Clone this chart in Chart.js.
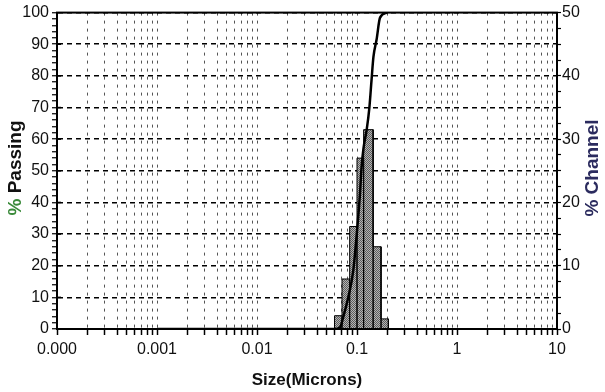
<!DOCTYPE html>
<html>
<head>
<meta charset="utf-8">
<script src="https://cdn.jsdelivr.net/npm/chart.js@4.4.0/dist/chart.umd.min.js"></script>
<style>
  html, body { margin: 0; padding: 0; background: #fff; }
  #wrap { width: 605px; height: 392px; }
</style>
</head>
<body>
<div id="wrap"><canvas id="psdChart" width="605" height="392"></canvas></div>
<script>
// --------------------------------
// Data
// --------------------------------
// histogram channels (right axis, % channel), bin edges in microns
const binEdges = [0.0596, 0.0708, 0.0845, 0.1, 0.1165, 0.145, 0.174, 0.206];
const channelPct = [2.1, 7.9, 16.2, 27.0, 31.5, 13.0, 1.6];

// cumulative curve (left axis, % passing)
const passSizes = [0.001, 0.06, 0.0676, 0.073, 0.0818, 0.0918, 0.1007, 0.107, 0.111, 0.116, 0.125, 0.133, 0.140, 0.146, 0.157, 0.170, 0.201];
const passPct = [0, 0, 0.5, 3.9, 10, 18.5, 32, 42.5, 51, 57, 63, 70, 79, 86, 91.5, 98.4, 100];

// x axis decades and their labels
const xTickValues = [0.0001, 0.001, 0.01, 0.1, 1, 10];
const xTickLabels = ['0.000', '0.001', '0.01', '0.1', '1', '10'];

const tickFont = { family: "'Liberation Sans', Arial, sans-serif", size: 16 };

// minor ticks 1..9 in every decade
function buildLogTicks() {
    const ticks = [];
    for (let i = 0; i < xTickValues.length - 1; i++) {
        for (let m = 1; m <= 9; m++) {
            ticks.push({ value: xTickValues[i] * m });
        }
    }
    ticks.push({ value: xTickValues[xTickValues.length - 1] });
    return ticks;
}

// histogram outline: up, across, down for each channel
const histPoints = [{ x: binEdges[0], y: 0 }];
for (let i = 0; i < channelPct.length; i++) {
    histPoints.push({ x: binEdges[i], y: channelPct[i] });
    histPoints.push({ x: binEdges[i + 1], y: channelPct[i] });
    histPoints.push({ x: binEdges[i + 1], y: 0 });
}
const passPoints = passSizes.map((s, i) => ({ x: s, y: passPct[i] }));

// stippled grey fill for the bars
const pc = document.createElement('canvas');
pc.width = 2; pc.height = 2;
const pctx = pc.getContext('2d');
pctx.fillStyle = '#b4b4b4'; pctx.fillRect(0, 0, 2, 2);
pctx.fillStyle = '#5c5c5c'; pctx.fillRect(0, 0, 1, 1); pctx.fillRect(1, 1, 1, 1);
const barPattern = pctx.createPattern(pc, 'repeat');

// frame, inner half of the major ticks and the axis titles
const frameAndTitles = {
    id: 'frameAndTitles',
    afterDraw(chart) {
        const ctx = chart.ctx;
        const a = chart.chartArea;
        ctx.save();
        ctx.strokeStyle = '#000';
        ctx.lineWidth = 2;
        ctx.strokeRect(a.left, a.top, a.right - a.left, a.bottom - a.top);

        const y = chart.scales.y;
        ctx.lineWidth = 1.5;
        for (let v = 10; v < 100; v += 10) {
            const py = y.getPixelForValue(v);
            ctx.beginPath();
            ctx.moveTo(a.left, py);
            ctx.lineTo(a.left + 4, py);
            ctx.stroke();
        }

        ctx.textBaseline = 'middle';
        // x title
        ctx.font = "bold 17px 'Liberation Sans', Arial, sans-serif";
        ctx.fillStyle = '#111';
        ctx.textAlign = 'center';
        ctx.fillText('Size(Microns)', 307, 380);

        ctx.font = "bold 19px 'Liberation Sans', Arial, sans-serif";
        // left title, two colours
        ctx.save();
        ctx.translate(16, 168);
        ctx.rotate(-Math.PI / 2);
        const w1 = ctx.measureText('% ').width;
        const w = ctx.measureText('% Passing').width;
        ctx.textAlign = 'left';
        ctx.fillStyle = '#3a8a3a';
        ctx.fillText('%', -w / 2, 0);
        ctx.fillStyle = '#111';
        ctx.fillText('Passing', -w / 2 + w1, 0);
        ctx.restore();

        // right title
        ctx.save();
        ctx.translate(593, 168);
        ctx.rotate(-Math.PI / 2);
        ctx.textAlign = 'center';
        ctx.fillStyle = '#2b2b5e';
        ctx.fillText('% Channel', 0, 0);
        ctx.restore();

        ctx.restore();
    }
};

const chartctx = document.getElementById('psdChart').getContext('2d');
const psdChart = new Chart(chartctx, {
    type: 'line',
    data: {
        datasets: [
            {
                label: '% Passing',
                data: passPoints,
                yAxisID: 'y',
                borderColor: '#000',
                borderWidth: 2.5,
                pointRadius: 0,
                fill: false,
                cubicInterpolationMode: 'monotone',
                order: 1
            },
            {
                label: '% Channel',
                data: histPoints,
                yAxisID: 'y2',
                borderColor: '#000',
                borderWidth: 1,
                backgroundColor: barPattern,
                pointRadius: 0,
                tension: 0,
                fill: 'origin',
                order: 2
            }
        ]
    },
    options: {
        responsive: false,
        animation: false,
        events: [],
        layout: { padding: { top: 10, left: 0, right: 0, bottom: 0 } },
        plugins: {
            legend: { display: false },
            tooltip: { enabled: false }
        },
        scales: {
            x: {
                type: 'logarithmic',
                min: xTickValues[0],
                max: xTickValues[xTickValues.length - 1],
                afterBuildTicks: (scale) => { scale.ticks = buildLogTicks(); },
                afterFit: (scale) => { scale.height = 63; },
                ticks: {
                    autoSkip: false,
                    maxRotation: 0,
                    padding: 5,
                    color: '#111',
                    font: tickFont,
                    callback: (value) => {
                        const idx = xTickValues.findIndex(d => Math.abs(Math.log10(d) - Math.log10(value)) < 1e-6);
                        return idx >= 0 ? xTickLabels[idx] : '';
                    }
                },
                grid: {
                    color: '#555',
                    lineWidth: 1,
                    tickColor: '#000',
                    tickLength: 6,
                    tickWidth: 1.5
                },
                border: { color: '#000', width: 2, dash: [3, 5] }
            },
            y: {
                position: 'left',
                min: 0,
                max: 100,
                afterFit: (scale) => { scale.width = 57; },
                ticks: {
                    stepSize: 2,
                    autoSkip: false,
                    padding: 3,
                    color: '#111',
                    font: tickFont,
                    callback: (value) => (value % 10 === 0 ? String(value) : '')
                },
                grid: {
                    color: (c) => (c.tick && c.tick.value % 10 === 0 ? '#000' : 'rgba(0,0,0,0)'),
                    lineWidth: 1.5,
                    tickColor: '#000',
                    tickLength: 5,
                    tickWidth: 1.2
                },
                border: { color: '#000', width: 2, dash: [5, 4] }
            },
            y2: {
                position: 'right',
                min: 0,
                max: 50,
                afterFit: (scale) => { scale.width = 48; },
                ticks: {
                    stepSize: 2.5,
                    autoSkip: false,
                    padding: 1,
                    color: '#111',
                    font: tickFont,
                    callback: (value) => (value % 10 === 0 ? String(value) : '')
                },
                grid: {
                    drawOnChartArea: false,
                    tickColor: '#000',
                    tickLength: 4,
                    tickWidth: 1.2
                },
                border: { color: '#000', width: 2 }
            }
        }
    },
    plugins: [frameAndTitles]
});
</script>
</body>
</html>
